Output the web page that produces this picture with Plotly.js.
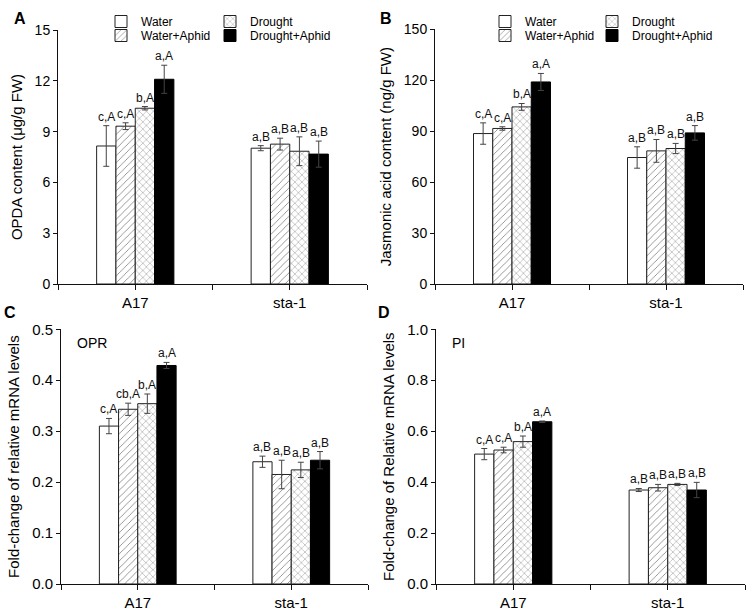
<!DOCTYPE html>
<html><head><meta charset="utf-8">
<script src="https://cdn.plot.ly/plotly-3.0.1.min.js"></script>
<style>html,body{margin:0;padding:0;background:#fff}#chart{width:750px;height:615px}</style>
</head><body><div id="chart"></div>
<script>
// ---- data ----
const categories = ['A17', 'sta-1'];
const treatments = ['Water', 'Water+Aphid', 'Drought', 'Drought+Aphid'];

// Panel A: OPDA content (ug/g FW)
const opdaWater = [8.15, 8.02];        const opdaWaterErr = [1.2, 0.15];
const opdaWaterAphid = [9.32, 8.26];   const opdaWaterAphidErr = [0.2, 0.35];
const opdaDrought = [10.38, 7.84];     const opdaDroughtErr = [0.1, 0.85];
const opdaDroughtAphid = [12.09, 7.67];const opdaDroughtAphidErr = [0.83, 0.77];
const opdaLetters = [['c,A', 'a,B'], ['c,A', 'a,B'], ['b,A', 'a,B'], ['a,A', 'a,B']];

// Panel B: Jasmonic acid content (ng/g FW)
const jaWater = [88.6, 74.5];          const jaWaterErr = [6.3, 6.3];
const jaWaterAphid = [91.6, 78.4];     const jaWaterAphidErr = [1.0, 6.7];
const jaDrought = [104.3, 79.8];       const jaDroughtErr = [2.0, 3.0];
const jaDroughtAphid = [119.0, 89.0];  const jaDroughtAphidErr = [5.0, 4.3];
const jaLetters = [['c,A', 'a,B'], ['c,A', 'a,B'], ['b,A', 'a,B'], ['a,A', 'a,B']];

// Panel C: OPR relative mRNA
const oprWater = [0.310, 0.240];       const oprWaterErr = [0.015, 0.011];
const oprWaterAphid = [0.343, 0.215];  const oprWaterAphidErr = [0.012, 0.028];
const oprDrought = [0.354, 0.224];     const oprDroughtErr = [0.019, 0.015];
const oprDroughtAphid = [0.429, 0.243];const oprDroughtAphidErr = [0.006, 0.017];
const oprLetters = [['c,A', 'a,B'], ['cb,A', 'a,B'], ['b,A', 'a,B'], ['a,A', 'a,B']];

// Panel D: PI relative mRNA
const piWater = [0.510, 0.369];        const piWaterErr = [0.022, 0.006];
const piWaterAphid = [0.526, 0.378];   const piWaterAphidErr = [0.011, 0.013];
const piDrought = [0.559, 0.391];      const piDroughtErr = [0.022, 0.004];
const piDroughtAphid = [0.637, 0.369]; const piDroughtAphidErr = [0.003, 0.030];
const piLetters = [['c,A', 'a,B'], ['c,A', 'a,B'], ['b,A', 'a,B'], ['a,A', 'a,B']];

const xTickVals = [-0.5, 0, 0.5, 1, 1.5];
const xTickText = ['', 'A17', '', 'sta-1', ''];

// ---- styles ----
const FONT = 'Liberation Sans, Arial, sans-serif';
const markers = [
  {color: '#ffffff', line: {color: '#222', width: 1}},
  {color: '#ffffff', line: {color: '#222', width: 1}, pattern: {shape: '/', fgcolor: '#777', bgcolor: '#fff', size: 5, solidity: 0.15}},
  {color: '#ffffff', line: {color: '#222', width: 1}, pattern: {shape: 'x', fgcolor: '#777', bgcolor: '#fff', size: 5, solidity: 0.15}},
  {color: '#000000', line: {color: '#000', width: 1}}
];
const offsets = [-0.1875, -0.0625, 0.0625, 0.1875];
const xIdx = categories.map((c, i) => i);

const panels = [
  {vals: [opdaWater, opdaWaterAphid, opdaDrought, opdaDroughtAphid],
   errs: [opdaWaterErr, opdaWaterAphidErr, opdaDroughtErr, opdaDroughtAphidErr],
   letters: opdaLetters, ax: '', legends: ['legend', 'legend2', 'legend', 'legend2'], colW: 64},
  {vals: [jaWater, jaWaterAphid, jaDrought, jaDroughtAphid],
   errs: [jaWaterErr, jaWaterAphidErr, jaDroughtErr, jaDroughtAphidErr],
   letters: jaLetters, ax: '2', legends: ['legend3', 'legend4', 'legend3', 'legend4'], colW: 62},
  {vals: [oprWater, oprWaterAphid, oprDrought, oprDroughtAphid],
   errs: [oprWaterErr, oprWaterAphidErr, oprDroughtErr, oprDroughtAphidErr],
   letters: oprLetters, ax: '3', legends: null},
  {vals: [piWater, piWaterAphid, piDrought, piDroughtAphid],
   errs: [piWaterErr, piWaterAphidErr, piDroughtErr, piDroughtAphidErr],
   letters: piLetters, ax: '4', legends: null}
];

const traces = [];
const annotations = [];
panels.forEach(p => {
  treatments.forEach((t, k) => {
    const tr = {
      type: 'bar', name: t, x: xIdx, y: p.vals[k],
      xaxis: 'x' + p.ax, yaxis: 'y' + p.ax,
      marker: markers[k],
      error_y: {type: 'data', array: p.errs[k], visible: true, color: '#444', thickness: 1, width: 3},
      showlegend: !!p.legends, hoverinfo: 'skip'
    };
    if (p.legends) {
      tr.legend = p.legends[k];
      tr.legendwidth = (k < 2) ? p.colW : 110;
    }
    traces.push(tr);
    xIdx.forEach(i => {
      annotations.push({
        xref: 'x' + p.ax, yref: 'y' + p.ax,
        x: i + offsets[k], y: p.vals[k][i] + p.errs[k][i],
        text: p.letters[k][i], showarrow: false, xanchor: 'center', yanchor: 'bottom', yshift: 0,
        font: {family: FONT, size: 12, color: '#111'}
      });
    });
  });
});

function xAxis(d, anchor) {
  return {domain: d, anchor: anchor, range: [-0.5, 1.5], tickvals: xTickVals, ticktext: xTickText,
    showline: true, linecolor: '#111', linewidth: 1, ticks: 'outside', ticklen: 5, tickcolor: '#111',
    showgrid: false, zeroline: false, fixedrange: true,
    tickfont: {family: FONT, size: 15, color: '#000'}};
}
function yAxis(d, anchor, range, dtick, fmt, title, tsize) {
  return {domain: d, anchor: anchor, range: range, dtick: dtick, tick0: 0, tickformat: fmt,
    showline: true, linecolor: '#111', linewidth: 1, ticks: 'outside', ticklen: 4, tickcolor: '#111',
    showgrid: false, zeroline: false, automargin: false,
    tickfont: {family: FONT, size: tsize, color: '#000'},
    title: {text: title, font: {family: FONT, size: 15, color: '#000'}, standoff: 8}};
}

const H = 615, W = 750;
const yTop = [1 - 30 / H, 1 - 284 / H];
const yBot = [1 - 584 / H, 1 - 329.3 / H];

const legBase = {orientation: 'h', xanchor: 'left', yanchor: 'middle', bgcolor: 'rgba(0,0,0,0)',
  font: {family: FONT, size: 12, color: '#000'}, entrywidthmode: 'pixels', itemclick: false};

function letter(txt, x, y) {
  return {xref: 'paper', yref: 'paper', x: x / W, y: 1 - y / H, xanchor: 'center', yanchor: 'middle',
    text: '<b>' + txt + '</b>', showarrow: false, font: {family: FONT, size: 16, color: '#000'}};
}
function gene(txt, x, y) {
  return {xref: 'paper', yref: 'paper', x: x / W, y: 1 - y / H, xanchor: 'left', yanchor: 'middle',
    text: txt, showarrow: false, font: {family: FONT, size: 14, color: '#000'}};
}

const layout = {
  width: W, height: H, margin: {l: 0, r: 0, t: 0, b: 0},
  paper_bgcolor: '#fff', plot_bgcolor: '#fff',
  barmode: 'group', bargap: 0.5, bargroupgap: 0,
  font: {family: FONT},
  xaxis: xAxis([58 / W, 367 / W], 'y'),
  yaxis: yAxis([yTop[1], yTop[0]], 'x', [0, 15], 3, 'd', 'OPDA content (μg/g FW)', 14),
  xaxis2: xAxis([435 / W, 743 / W], 'y2'),
  yaxis2: yAxis([yTop[1], 1 - 29.3 / H], 'x2', [0, 150], 30, 'd', 'Jasmonic acid content (ng/g FW)', 14),
  xaxis3: xAxis([61 / W, 368 / W], 'y3'),
  yaxis3: yAxis([yBot[0], yBot[1]], 'x3', [0, 0.5], 0.1, '.1f', 'Fold-change of relative mRNA levels', 15),
  xaxis4: xAxis([436 / W, 745 / W], 'y4'),
  yaxis4: yAxis([yBot[0], yBot[1]], 'x4', [0, 1.0], 0.2, '.1f', 'Fold-change of Relative mRNA levels', 15),
  legend: Object.assign({}, legBase, {x: 101 / W, y: 1 - 21.5 / H}),
  legend2: Object.assign({}, legBase, {x: 101 / W, y: 1 - 35.5 / H}),
  legend3: Object.assign({}, legBase, {x: 485 / W, y: 1 - 21.5 / H}),
  legend4: Object.assign({}, legBase, {x: 485 / W, y: 1 - 35.5 / H}),
  annotations: annotations.concat([
    letter('A', 20, 18), letter('B', 386, 18), letter('C', 10, 312), letter('D', 384, 312),
    gene('OPR', 75, 343), gene('PI', 450, 343)
  ])
};

Plotly.newPlot('chart', traces, layout, {staticPlot: true, displayModeBar: false});
</script>
</body></html>
